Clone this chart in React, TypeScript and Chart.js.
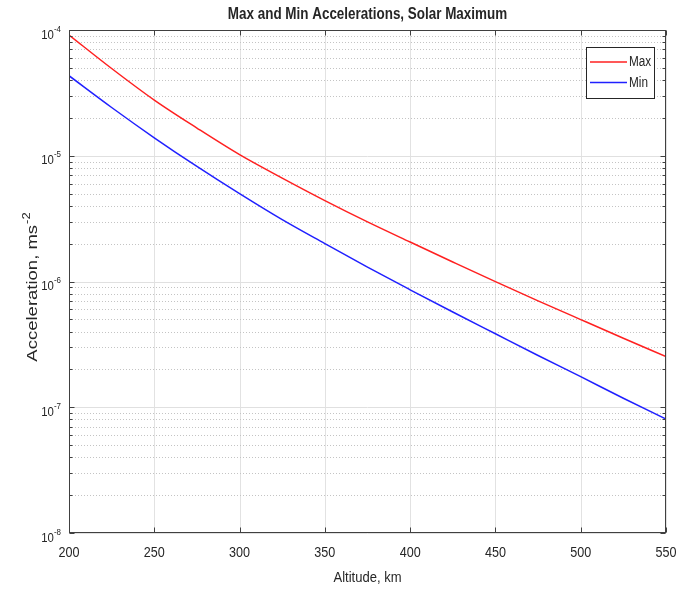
import React, { useEffect, useRef } from "react";
import { Chart, registerables } from "chart.js";

Chart.register(...registerables);

// ---- Data ----
const altitudes = [200, 225, 250, 275, 300, 325, 350, 375, 400, 425, 450, 475, 500, 525, 550];
const maxAccel = [9.12e-5, 4.94e-5, 2.77e-5, 1.66e-5, 1.02e-5, 6.64e-6, 4.4e-6, 2.98e-6, 2.06e-6, 1.43e-6, 9.97e-7, 7.02e-7, 4.98e-7, 3.54e-7, 2.53e-7];
const minAccel = [4.33e-5, 2.42e-5, 1.39e-5, 8.22e-6, 4.99e-6, 3.1e-6, 2.0e-6, 1.3e-6, 8.59e-7, 5.72e-7, 3.84e-7, 2.58e-7, 1.75e-7, 1.18e-7, 8.04e-8];
const xTicks = [200, 250, 300, 350, 400, 450, 500, 550];
const yExponents = [-4, -5, -6, -7, -8];
const seriesNames = ["Max", "Min"];
const seriesColors = ["#ff2020", "#2020ff"];
const titleText = "Max and Min Accelerations, Solar Maximum";
const xTitleText = "Altitude, km";
const yTitleText = "Acceleration, ms";
const yTitleSup = "-2";

const FONT = "'Liberation Sans', Arial, Helvetica, sans-serif";
const SX = 0.84;
const TEXT = "#262626";

function drawScaledText(
  ctx: CanvasRenderingContext2D,
  text: string,
  x: number,
  y: number,
  font: string,
  align: CanvasTextAlign,
  baseline: CanvasTextBaseline,
  color = TEXT
) {
  ctx.save();
  ctx.translate(x, y);
  ctx.scale(SX, 1);
  ctx.font = font;
  ctx.textAlign = align;
  ctx.textBaseline = baseline;
  ctx.fillStyle = color;
  ctx.fillText(text, 0, 0);
  ctx.restore();
}

const decorPlugin = {
  id: "decor",
  beforeDatasetsDraw(chart: any) {
    const ctx: CanvasRenderingContext2D = chart.ctx;
    const a = chart.chartArea;
    const xs = chart.scales.x;
    const ys = chart.scales.y;
    ctx.save();
    ctx.strokeStyle = "#e2e2e2";
    ctx.lineWidth = 1;
    xTicks.forEach((t) => {
      const x = Math.round(xs.getPixelForValue(t)) + 0.5;
      ctx.beginPath();
      ctx.moveTo(x, a.top);
      ctx.lineTo(x, a.bottom);
      ctx.stroke();
    });
    yExponents.forEach((e) => {
      if (e === -4) return;
      for (let m = 1; m <= 9; m++) {
        const v = m * Math.pow(10, e);
        const y = Math.round(ys.getPixelForValue(v)) + 0.5;
        ctx.beginPath();
        if (m === 1) {
          ctx.setLineDash([]);
          ctx.strokeStyle = "#e0e0e0";
        } else {
          ctx.setLineDash([1, 2]);
          ctx.strokeStyle = "#c4c4c4";
        }
        ctx.moveTo(a.left, y);
        ctx.lineTo(a.right, y);
        ctx.stroke();
      }
    });
    ctx.restore();
  },
  afterDatasetsDraw(chart: any) {
    const ctx: CanvasRenderingContext2D = chart.ctx;
    const a = chart.chartArea;
    const xs = chart.scales.x;
    const ys = chart.scales.y;
    ctx.save();
    ctx.setLineDash([]);
    ctx.strokeStyle = "#404040";
    ctx.lineWidth = 1;
    const L = Math.round(a.left) + 0.5;
    const R = Math.round(a.right) - 0.5;
    const T = Math.round(a.top) + 0.5;
    const B = Math.round(a.bottom) - 0.5;
    ctx.strokeRect(L, T, R - L, B - T);

    xTicks.forEach((t) => {
      const x = Math.round(xs.getPixelForValue(t)) + 0.5;
      ctx.beginPath();
      ctx.moveTo(x, B);
      ctx.lineTo(x, B - 5);
      ctx.moveTo(x, T);
      ctx.lineTo(x, T + 5);
      ctx.stroke();
      drawScaledText(ctx, String(t), xs.getPixelForValue(t), 553, `15px ${FONT}`, "center", "middle");
    });

    yExponents.forEach((e) => {
      for (let m = 1; m <= 9; m++) {
        if (e === -4 && m > 1) continue;
        const v = m * Math.pow(10, e);
        const y = Math.round(ys.getPixelForValue(v)) + 0.5;
        const len = m === 1 ? 5 : 3;
        ctx.beginPath();
        ctx.moveTo(L, y);
        ctx.lineTo(L + len, y);
        ctx.moveTo(R, y);
        ctx.lineTo(R - len, y);
        ctx.stroke();
      }
      const y = ys.getPixelForValue(Math.pow(10, e));
      ctx.font = `13.5px ${FONT}`;
      const w1 = ctx.measureText("10").width * SX;
      ctx.font = `9.5px ${FONT}`;
      const sup = String(e);
      const w2 = ctx.measureText(sup).width * SX;
      const right = a.left - 8;
      drawScaledText(ctx, "10", right - w2 - w1, y + 5, `13.5px ${FONT}`, "left", "middle");
      drawScaledText(ctx, sup, right - w2, y - 1, `9.5px ${FONT}`, "left", "middle");
    });

    drawScaledText(ctx, titleText, (a.left + a.right) / 2, 15, `bold 16px ${FONT}`, "center", "middle");
    drawScaledText(ctx, xTitleText, (a.left + a.right) / 2, 578, `15.5px ${FONT}`, "center", "middle");

    // y title (rotated)
    ctx.save();
    const cx = 37;
    const cy = (a.top + a.bottom) / 2 + 6;
    ctx.translate(cx, cy);
    ctx.rotate(-Math.PI / 2);
    ctx.scale(1, SX);
    ctx.fillStyle = TEXT;
    ctx.textBaseline = "alphabetic";
    ctx.textAlign = "left";
    ctx.font = `18.5px ${FONT}`;
    const mw = ctx.measureText(yTitleText).width;
    ctx.font = `13px ${FONT}`;
    const sw = ctx.measureText(yTitleSup).width;
    const start = -(mw + sw) / 2;
    ctx.font = `18.5px ${FONT}`;
    ctx.fillText(yTitleText, start, 0);
    ctx.font = `13px ${FONT}`;
    ctx.fillText(yTitleSup, start + mw + 1, -8);
    ctx.restore();

    // legend
    const lx = 586.5, ly = 47.5, lw = 68, lh = 51;
    ctx.fillStyle = "#ffffff";
    ctx.fillRect(lx, ly, lw, lh);
    ctx.strokeStyle = "#262626";
    ctx.lineWidth = 1;
    ctx.strokeRect(lx, ly, lw, lh);
    const rows = [62, 82.5];
    seriesNames.forEach((n, i) => {
      ctx.strokeStyle = seriesColors[i];
      ctx.lineWidth = 1.5;
      ctx.beginPath();
      ctx.moveTo(590, rows[i]);
      ctx.lineTo(627, rows[i]);
      ctx.stroke();
      drawScaledText(ctx, n, 629, rows[i] + 0.5, `14px ${FONT}`, "left", "middle");
    });
    ctx.restore();
  },
};

export default function App() {
  const ref = useRef<HTMLCanvasElement | null>(null);
  useEffect(() => {
    document.body.style.margin = "0";
    const canvas = ref.current;
    if (!canvas) return;
    const chart = new Chart(canvas, {
      type: "line",
      data: {
        datasets: [
          {
            label: seriesNames[0],
            data: altitudes.map((x, i) => ({ x, y: maxAccel[i] })),
            borderColor: seriesColors[0],
            borderWidth: 1.5,
            pointRadius: 0,
            cubicInterpolationMode: "monotone",
            fill: false,
          },
          {
            label: seriesNames[1],
            data: altitudes.map((x, i) => ({ x, y: minAccel[i] })),
            borderColor: seriesColors[1],
            borderWidth: 1.5,
            pointRadius: 0,
            cubicInterpolationMode: "monotone",
            fill: false,
          },
        ],
      },
      options: {
        animation: false,
        responsive: true,
        maintainAspectRatio: false,
        devicePixelRatio: 1,
        layout: { padding: { left: 69, right: 21, top: 30, bottom: 59 } },
        plugins: { legend: { display: false }, title: { display: false }, tooltip: { enabled: false } },
        scales: {
          x: { type: "linear", min: 200, max: 550, display: false },
          y: { type: "logarithmic", min: 1e-8, max: 1e-4, display: false },
        },
      },
      plugins: [decorPlugin],
    });
    return () => chart.destroy();
  }, []);
  return (
    <div style={{ position: "absolute", left: 0, top: 0, width: 687, height: 592, background: "#fff" }}>
      <canvas ref={ref} />
    </div>
  );
}
